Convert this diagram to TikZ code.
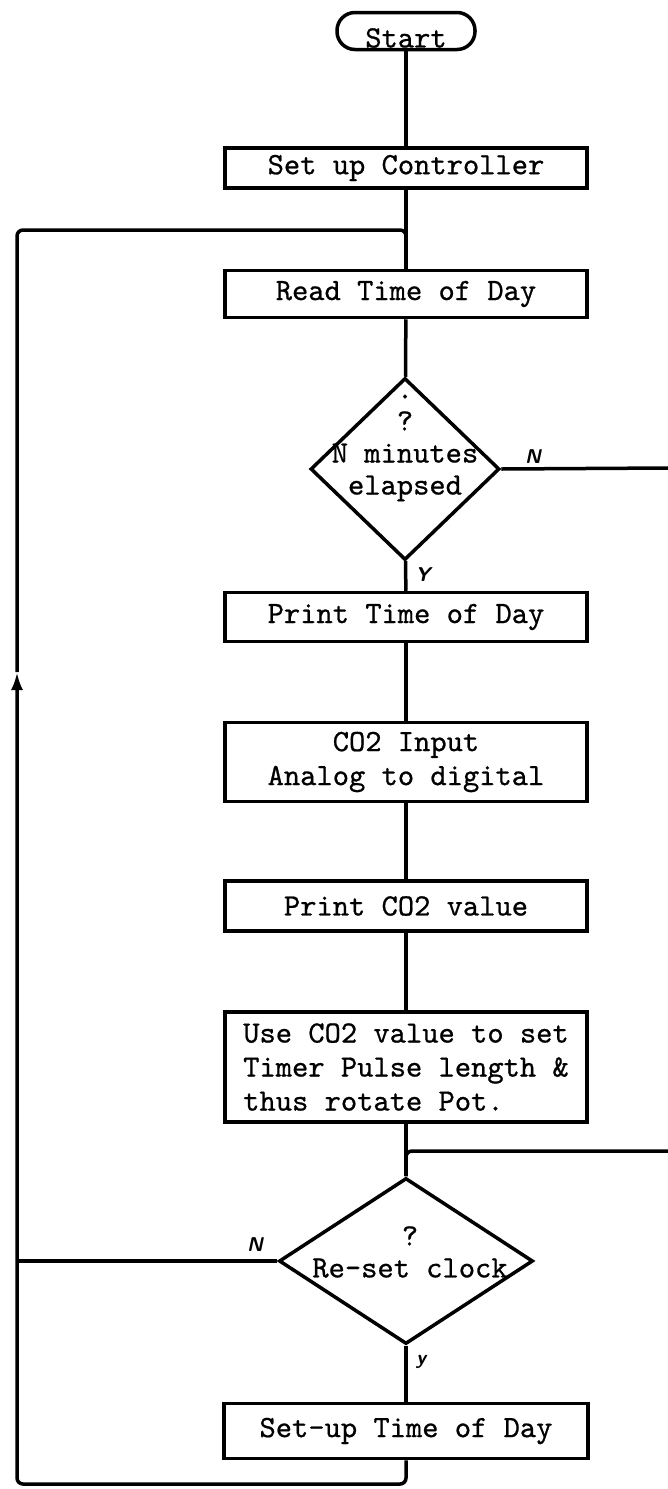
\documentclass[tikz,border=0pt]{standalone}
\usepackage{fontspec}
\newfontfamily\typefont{lmmono10-regular.otf}[FakeBold=0.7]
\usetikzlibrary{shapes.geometric,arrows.meta}

\begin{document}
\begin{tikzpicture}[x=1pt,y=1pt,yscale=-1,line width=3.5pt,
  proc/.style={draw,rectangle,minimum width=362pt,inner sep=0pt,align=center,
    font=\typefont\fontsize{31}{34}\selectfont},
  decision/.style={draw,diamond,inner sep=0pt},
  dtext/.style={inner sep=0pt,align=center,font=\typefont\fontsize{31}{32}\selectfont},
  yn/.style={inner sep=0pt,font=\sffamily\bfseries\slshape\fontsize{20}{20}\selectfont}]
\useasboundingbox (0,0) rectangle (668,1489);

% boxes
\node[draw,rounded corners=18pt,minimum width=138pt,minimum height=37pt] (start) at (406,31) {};
\node[dtext] (starttxt) at (406,38) {Start};
\node[proc,minimum height=40pt] (setup) at (406,168) {Set up Controller};
\node[proc,minimum height=47pt] (read) at (406,294) {Read Time of Day};
\node[decision,minimum width=189pt,minimum height=182pt] (elapsed) at (405,469) {};
\node[dtext] (elapsedtxt) at (405,448) {.\\?\\N minutes\\elapsed};
\node[proc,minimum height=49pt] (printtime) at (406,617) {Print Time of Day};
\node[proc,minimum height=79pt] (co2in) at (406,762) {CO2 Input\\Analog to digital};
\node[proc,minimum height=50pt] (printco2) at (406,906) {Print CO2 value};
\node[proc,minimum height=110pt,align=left] (setpot) at (406,1067) {Use CO2 value to set\\Timer Pulse length \&\\thus rotate Pot.};
\node[decision,minimum width=254pt,minimum height=166pt] (reset) at (406,1261) {};
\node[dtext] (resettxt) at (410,1252) {?\\Re-set clock};
\node[proc,minimum height=55pt,minimum width=364pt] (settime) at (406,1431) {Set-up Time of Day};

% loop and exits
\coordinate (nexit) at (668,468);
\coordinate (nentry) at (668,1151);
\coordinate (join) at (406,1151);
\coordinate (loopbl) at (17,1484);
\coordinate (loopbr) at (406,1484);
\coordinate (looptl) at (17,230);
\coordinate (looptr) at (406,230);
\coordinate (looparrow) at (17,672);

% connectors
\draw (start) -- (setup);
\draw (setup) -- (read);
\draw (read) -- (elapsed);
\draw (elapsed) -- (printtime);
\draw (elapsed.east) -- (nexit);
\draw (printtime) -- (co2in);
\draw (co2in) -- (printco2);
\draw (printco2) -- (setpot);
\draw (setpot.south) -- (reset.north);
\draw[rounded corners=6pt] (nentry) -- (join) -- (reset.north);
\draw (reset) -- (settime);
\draw (reset.west) -- (reset.west -| looptl);
\draw[rounded corners=6pt,-{Latex[length=18pt,width=12pt]}] (settime.south) -- (loopbr) -- (loopbl) -- (looparrow);
\draw[rounded corners=6pt] (looparrow) -- (looptl) -- (looptr) -- (read.north);

% branch labels
\node[yn] (nlab1) at (533,457) {N};
\node[yn] (ylab1) at (423,575) {Y};
\node[yn] (nlab2) at (255,1245) {N};
\node[yn] (ylab2) at (421,1362) {y};

\end{tikzpicture}
\end{document}
